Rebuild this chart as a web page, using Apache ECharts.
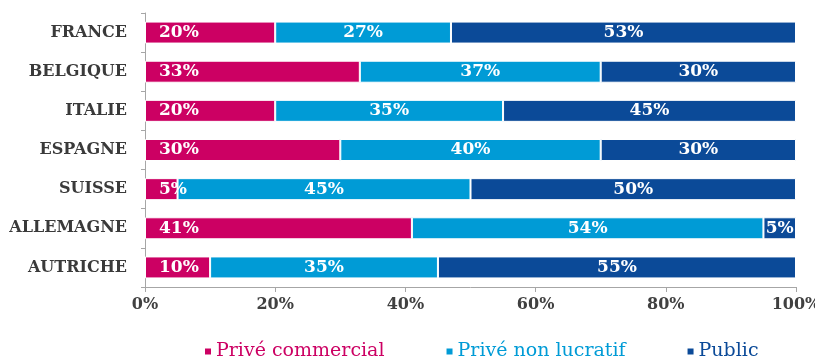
<!DOCTYPE html>
<html><head><meta charset="utf-8">
<script src="https://cdn.jsdelivr.net/npm/echarts@6/dist/echarts.min.js"></script>
<style>html,body{margin:0;padding:0;background:#fff}#c{width:815px;height:361px}</style>
</head><body><div id="c"></div>
<script>
const categories = ['FRANCE','BELGIQUE','ITALIE','ESPAGNE','SUISSE','ALLEMAGNE','AUTRICHE'];
const priveCommercial = [20,33,20,30,5,41,10];
const priveNonLucratif = [27,37,35,40,45,54,35];
const publicSecteur = [53,30,45,30,50,5,55];
const seriesNames = ['Privé commercial','Privé non lucratif','Public'];
const xTicks = [0,20,40,60,80,100];

const colors = ['#cc0063','#009bd6','#0b4a98'];
const font = 'DejaVu Serif';
const chart = echarts.init(document.getElementById('c'));
const label = (pos, dist) => ({
  show: true, position: pos, distance: dist, color: '#fff',
  fontFamily: font, fontWeight: 'bold', fontSize: 17,
  formatter: p => p.value + '%'
});
const mk = (name, data, color, lbl) => ({
  name, type: 'bar', stack: 'total', data, barWidth: 22,
  itemStyle: { color, borderColor: '#fff', borderWidth: 1 },
  label: lbl
});
chart.setOption({
  animation: false,
  color: colors,
  grid: { left: 145, right: 19, top: 13, bottom: 74, containLabel: false, outerBoundsMode: 'none' },
  xAxis: {
    type: 'value', min: 0, max: 100, interval: 20,
    axisLine: { show: true, lineStyle: { color: '#a6a6a6' } },
    axisTick: { show: true, length: 5, lineStyle: { color: '#a6a6a6' } },
    splitLine: { show: false },
    axisLabel: { margin: 10, color: '#404040', fontFamily: font, fontWeight: 'bold', fontSize: 16,
      formatter: v => xTicks.includes(v) ? v + '%' : '' }
  },
  yAxis: {
    type: 'category', data: categories, inverse: true,
    axisLine: { show: true, lineStyle: { color: '#a6a6a6' } },
    axisTick: { show: true, length: 4, lineStyle: { color: '#a6a6a6' } },
    axisLabel: { margin: 18, color: '#3a3a3a', fontFamily: font, fontWeight: 'bold', fontSize: 16 }
  },
  legend: {
    left: 198, top: 337, itemWidth: 8, itemHeight: 8, itemGap: 60,
    icon: 'rect',
    data: seriesNames.map((n, i) => ({ name: n, textStyle: { color: colors[i] } })),
    textStyle: { fontFamily: font, fontSize: 19, padding: [0,0,0,-1] }
  },
  series: [
    mk(seriesNames[0], priveCommercial, colors[0], label('insideLeft', 14)),
    mk(seriesNames[1], priveNonLucratif, colors[1], label('inside')),
    mk(seriesNames[2], publicSecteur, colors[2], label('inside'))
  ]
});
</script></body></html>
